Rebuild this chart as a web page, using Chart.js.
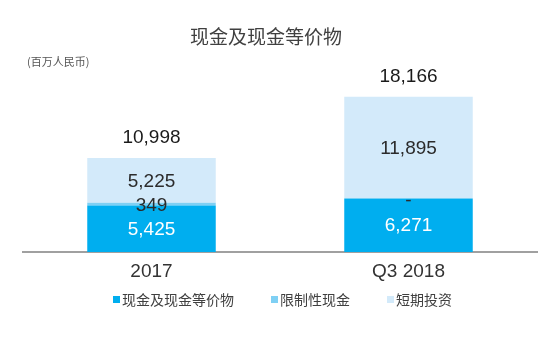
<!DOCTYPE html>
<html>
<head>
<meta charset="utf-8">
<script src="https://cdn.jsdelivr.net/npm/chart.js@4/dist/chart.umd.min.js"></script>
<style>
  html, body { margin: 0; padding: 0; background: #ffffff; }
  #wrap { width: 550px; height: 338px; position: relative; }
</style>
</head>
<body>
<div id="wrap"><canvas id="c" width="550" height="338"></canvas></div>
<script>
// 现金及现金等价物 (百万人民币)
const categories = ['2017', 'Q3 2018'];
const cashEquivalents = [5425, 6271];
const restrictedCash = [349, 0];
const shortTermInvestments = [5225, 11895];
const totals = [10998, 18166];
const seriesNames = ['现金及现金等价物', '限制性现金', '短期投资'];

const COLORS = ['#00AEEF', '#7FD0F4', '#D3EAFA'];
const CJK = '"Noto Sans CJK SC", "Noto Sans", sans-serif';
const NUM = '"Liberation Sans", Arial, sans-serif';

const fmt = v => v === 0 ? '-' : v.toLocaleString('en-US');

const decorations = {
  id: 'decorations',
  afterDatasetsDraw(chart) {
    const ctx = chart.ctx;
    ctx.save();
    ctx.textAlign = 'center';
    ctx.textBaseline = 'middle';
    ctx.font = '19px ' + NUM;
    // segment values
    chart.data.datasets.forEach((ds, di) => {
      const meta = chart.getDatasetMeta(di);
      meta.data.forEach((bar, i) => {
        const v = ds.data[i];
        const cy = (bar.y + bar.base) / 2 + (di === 1 ? 2 : 1);
        ctx.fillStyle = di === 0 ? '#ffffff' : '#2b2b2b';
        ctx.fillText(fmt(v), bar.x, cy);
      });
    });
    // totals above each stack
    const topMeta = chart.getDatasetMeta(chart.data.datasets.length - 1);
    topMeta.data.forEach((bar, i) => {
      ctx.fillStyle = '#1a1a1a';
      ctx.fillText(fmt(totals[i]), bar.x, bar.y - 20);
    });
    ctx.restore();
  },
  afterDraw(chart) {
    const ctx = chart.ctx;
    ctx.save();
    // title
    ctx.fillStyle = '#404040';
    ctx.textAlign = 'center';
    ctx.textBaseline = 'middle';
    ctx.font = '19px ' + CJK;
    ctx.fillText('现金及现金等价物', 266, 37);
    // unit
    ctx.textAlign = 'left';
    ctx.font = '11px ' + CJK;
    ctx.fillStyle = '#555555';
    ctx.fillText('(百万人民币)', 27, 62);
    // legend
    ctx.font = '14px ' + CJK;
    let x = 113;
    const y = 300;
    chart.data.datasets.forEach((ds, di) => {
      ctx.fillStyle = ds.backgroundColor;
      ctx.fillRect(x, y - 4, 7, 7);
      ctx.fillStyle = '#404040';
      ctx.fillText(ds.label, x + 9, y);
      x += 9 + ctx.measureText(ds.label).width + 37;
    });
    ctx.restore();
  }
};

new Chart(document.getElementById('c'), {
  type: 'bar',
  data: {
    labels: categories,
    datasets: [
      { label: seriesNames[0], data: cashEquivalents, backgroundColor: COLORS[0] },
      { label: seriesNames[1], data: restrictedCash, backgroundColor: COLORS[1] },
      { label: seriesNames[2], data: shortTermInvestments, backgroundColor: COLORS[2] }
    ]
  },
  options: {
    responsive: false,
    animation: false,
    layout: { padding: { left: 23, right: 13, top: 81, bottom: 56 } },
    datasets: { bar: { barPercentage: 0.5, categoryPercentage: 1.0, borderWidth: 0 } },
    plugins: { legend: { display: false }, title: { display: false }, tooltip: { enabled: false } },
    scales: {
      x: {
        stacked: true,
        grid: { display: false, drawTicks: false },
        border: { display: true, color: '#A0A0A0', width: 2 },
        ticks: { color: '#333333', font: { family: NUM, size: 19 }, padding: 8 },
        afterFit(scale) { scale.height = 30; }
      },
      y: {
        stacked: true,
        display: false,
        min: 0,
        max: 20000
      }
    }
  },
  plugins: [decorations]
});
</script>
</body>
</html>
